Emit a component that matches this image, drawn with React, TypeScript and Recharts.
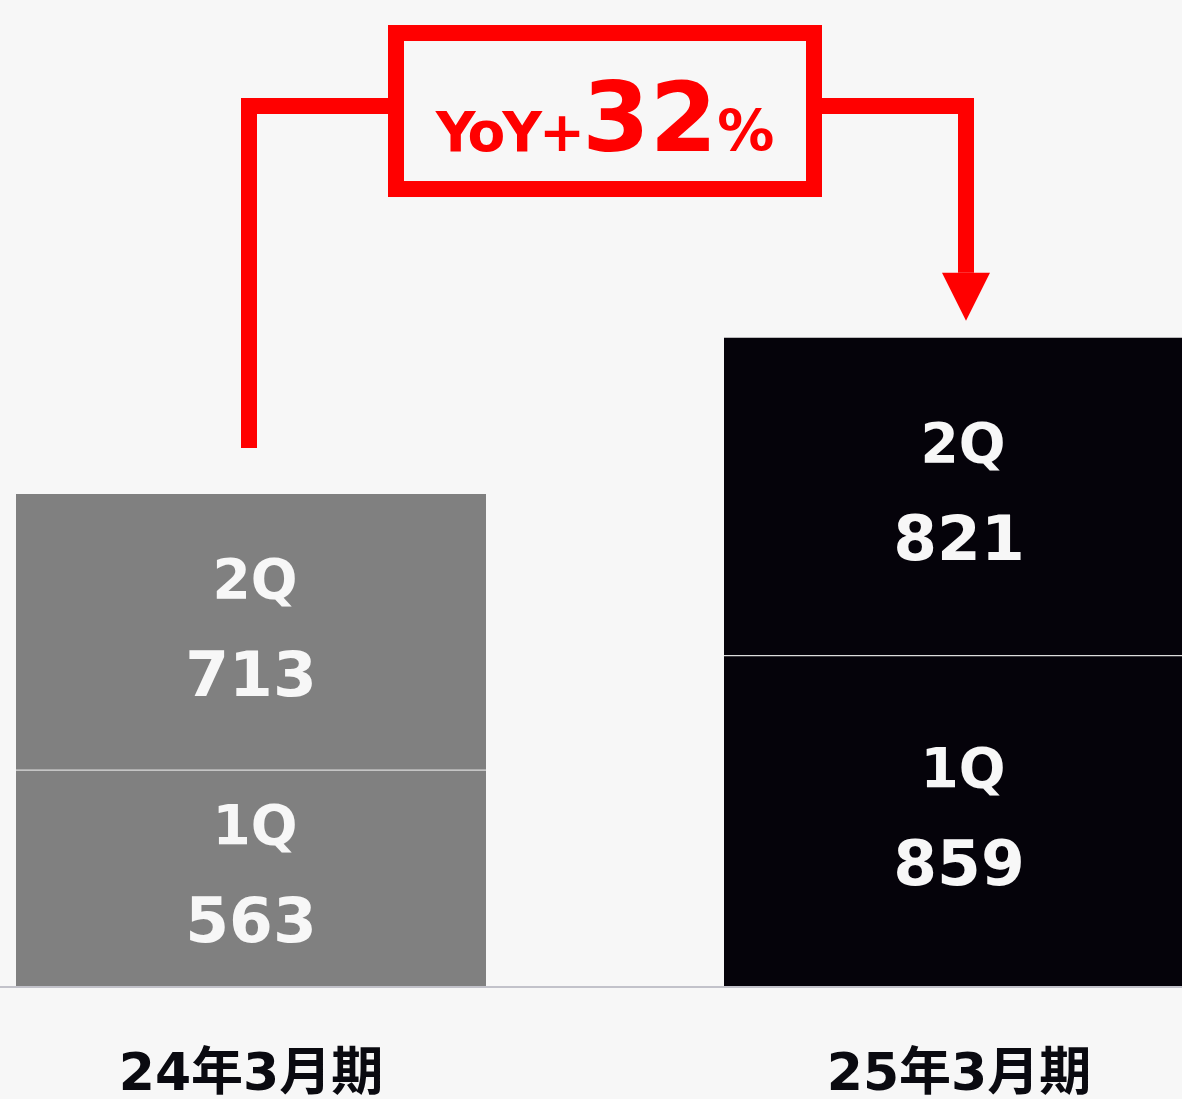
import { BarChart, Bar, XAxis, YAxis, Cell, LabelList, ReferenceLine } from 'recharts';

const periods = ['24年3月期', '25年3月期'];
const q1Sales = [563, 859];
const q2Sales = [713, 821];
const barColors = ['#808080', '#05030a'];
const yoyParts = ['YoY+', '32', '%'];

// arrow anchors, in data units of the value axis
const ARROW_FROM = 1395;
const ARROW_TOP = 2280;
const ARROW_TO = 1724;

const RED = '#ff0000';
const BG = '#f7f7f7';
const FONT = "'DejaVu Sans', 'Noto Sans CJK JP', sans-serif";

const data = periods.map((period, i) => ({ period, q1: q1Sales[i], q2: q2Sales[i] }));

/**
 * Elbow arrow from the FY24 bar to the FY25 bar with the YoY box on top
 */
function YoyArrow(props: any) {
  const { x1, y1, x2, y2 } = props;
  // top of the elbow, from the same linear scale as the two ends
  const yTop = y1 + ((ARROW_TOP - ARROW_FROM) * (y2 - y1)) / (ARROW_TO - ARROW_FROM);
  const left = x1 - 2;
  const right = x2 + 7;
  const head = 48;
  const cx = (x1 + x2) / 2;

  return (
    <g>
      <path
        d={`M${left},${y1} V${yTop} H${right} V${y2 - head}`}
        fill="none"
        stroke={RED}
        strokeWidth={16}
        strokeLinejoin="miter"
      />
      <path d={`M${right - 24},${y2 - head} L${right + 24},${y2 - head} L${right},${y2} Z`} fill={RED} />
      <rect x={cx - 209} y={yTop - 73} width={418} height={156} fill={BG} stroke={RED} strokeWidth={16} />
      <text x={cx} y={yTop + 45} textAnchor="middle" fill={RED} fontFamily={FONT} fontWeight="bold">
        <tspan fontSize={55} letterSpacing={-3}>{yoyParts[0]}</tspan>
        <tspan fontSize={97}>{yoyParts[1]}</tspan>
        <tspan fontSize={57}>{yoyParts[2]}</tspan>
      </text>
    </g>
  );
}

// lower segment: plain rect with the light divider along its top edge
function LowerSegment(props: any) {
  const { x, y, width, height, fill } = props;
  const top = height < 0 ? y + height : y;
  return (
    <g>
      <rect x={x} y={top} width={width} height={Math.abs(height)} fill={fill} />
      <line x1={x} x2={x + width} y1={top} y2={top} stroke="#dcdcdc" strokeWidth={2.5} />
    </g>
  );
}

// quarter name above, value below the middle of each stacked segment
const segmentLabel = (quarter: string) => (props: any) => {
  const vb = props.viewBox && props.viewBox.width != null ? props.viewBox : props;
  const { x, y, width, height } = vb;
  const top = height < 0 ? y + height : y;
  const cx = x + width / 2;
  const cy = top + Math.abs(height) / 2;
  return (
    <g>
      <text x={cx + 4} y={cy - 34} textAnchor="middle" fill="#f7f7f7" fontFamily={FONT} fontWeight="bold" fontSize={55}>
        {quarter}
      </text>
      <text x={cx} y={cy + 64} textAnchor="middle" fill="#f7f7f7" fontFamily={FONT} fontWeight="bold" fontSize={63}>
        {props.value}
      </text>
    </g>
  );
};

function PeriodTick(props: any) {
  const { x, y, payload } = props;
  return (
    <text x={x} y={y + 103} textAnchor="middle" fill="#0a0a10" fontFamily={FONT} fontWeight="bold" fontSize={52}>
      {payload.value}
    </text>
  );
}

export default function App() {
  return (
    <div
      style={{
        position: 'fixed',
        top: 0,
        left: 0,
        width: 1182,
        height: 1099,
        overflow: 'hidden',
        background: BG,
      }}
    >
      <div style={{ position: 'absolute', top: 0, left: -103 }}>
        <BarChart width={1416} height={1099} data={data} margin={{ top: 21, right: 0, left: 0, bottom: 0 }}>
          <XAxis
            dataKey="period"
            height={112}
            axisLine={{ stroke: '#c2c2ca', strokeWidth: 2 }}
            tickLine={false}
            tickSize={0}
            tickMargin={0}
            tick={<PeriodTick />}
            interval={0}
          />
          <YAxis hide domain={[0, 2500]} />
          <Bar dataKey="q1" stackId="fy" barSize={470} shape={LowerSegment} isAnimationActive={false}>
            {data.map((_, i) => (
              <Cell key={i} fill={barColors[i]} />
            ))}
            <LabelList dataKey="q1" content={segmentLabel('1Q')} />
          </Bar>
          <Bar dataKey="q2" stackId="fy" barSize={470} isAnimationActive={false}>
            {data.map((_, i) => (
              <Cell key={i} fill={barColors[i]} />
            ))}
            <LabelList dataKey="q2" content={segmentLabel('2Q')} />
          </Bar>
          <ReferenceLine
            segment={[
              { x: periods[0], y: ARROW_FROM },
              { x: periods[1], y: ARROW_TO },
            ]}
            ifOverflow="visible"
            stroke={RED}
            shape={YoyArrow}
          />
        </BarChart>
      </div>
    </div>
  );
}
